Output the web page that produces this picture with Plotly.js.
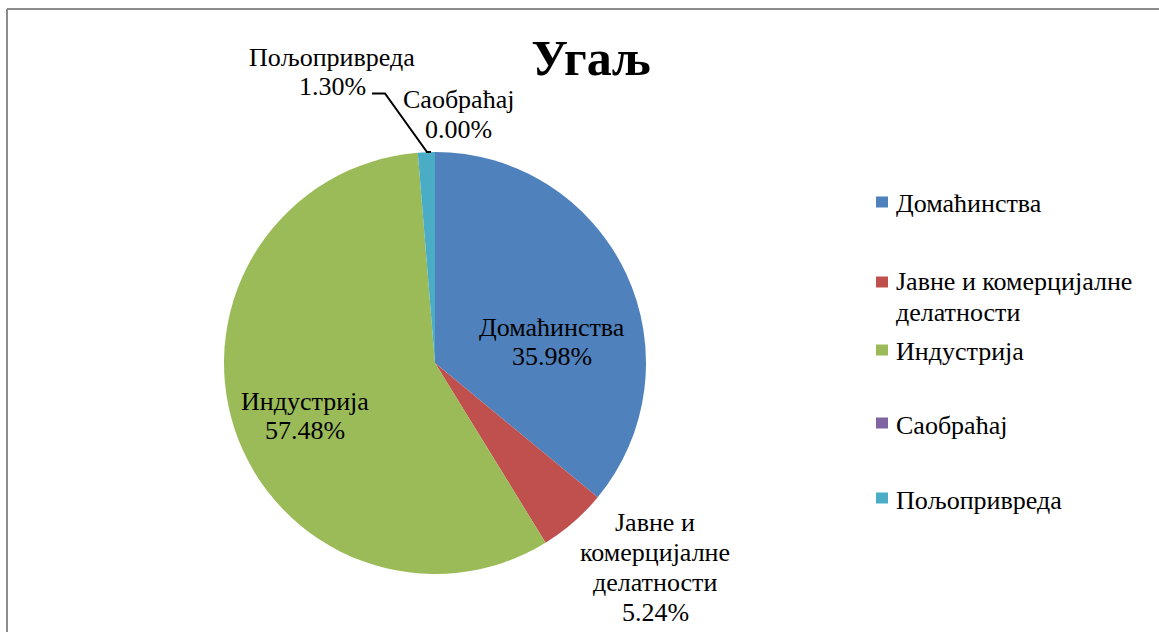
<!DOCTYPE html>
<html>
<head>
<meta charset="utf-8">
<script src="https://cdn.plot.ly/plotly-3.0.1.min.js"></script>
</head>
<body style="margin:0;background:#fff">
<div id="chart" style="width:1159px;height:632px"></div>
<script>
// ---- data ----
const categories = ["Домаћинства", "Јавне и комерцијалне делатности", "Индустрија", "Саобраћај", "Пољопривреда"];
const shares = [35.98, 5.24, 57.48, 0.00, 1.30];
const sliceColors = ["#4F81BD", "#C0504D", "#9BBB59", "#8064A2", "#4BACC6"];
const chartTitle = "Угаљ";

// ---- layout helpers (pixel -> paper) ----
const W = 1159, H = 632;
const px = x => x / W;
const py = y => 1 - y / H;
const FONT = "Liberation Serif";
const FS = 26;

// pie geometry
const cx = 435, cy = 363, R = 211;

// how long category names are broken into lines
const labelLines = {
  "Јавне и комерцијалне делатности": ["Јавне и", "комерцијалне", "делатности"]
};
const legendLines = {
  "Јавне и комерцијалне делатности": ["Јавне и комерцијалне", "делатности"]
};
// data-label block: centre x, first line y, line step
const labelPos = [[552, 327], [655, 522], [305, 401], [458, 100], [332, 57]];
const labelStep = [29, 30.3, 29, 29, 29];

const annotations = [];
function addText(str, x, y, anchor) {
  annotations.push({
    xref: "paper", yref: "paper",
    x: px(x), y: py(y),
    xanchor: anchor, yanchor: "middle",
    text: str, showarrow: false,
    font: {family: FONT, size: FS, color: "#000"}
  });
}

categories.forEach((c, i) => {
  const lines = (labelLines[c] || [c]).concat([shares[i].toFixed(2) + "%"]);
  lines.forEach((ln, k) => addText(ln, labelPos[i][0], labelPos[i][1] + k * labelStep[i], "center"));
});

// manual legend (swatch centre y, text line ys)
const legendSwatchY = [202, 282, 350, 423, 498];
const legendTextY = [[204], [282, 312], [351], [425], [500]];
const shapes = [];
categories.forEach((c, i) => {
  const sy = legendSwatchY[i];
  shapes.push({
    type: "rect", xref: "paper", yref: "paper",
    x0: px(876), x1: px(888), y0: py(sy - 5.5), y1: py(sy + 5.5),
    fillcolor: sliceColors[i], line: {width: 0}
  });
  (legendLines[c] || [c]).forEach((ln, k) => addText(ln, 894, legendTextY[i][k], "left"));
});

// leader line for small slice label
shapes.push({
  type: "path", xref: "paper", yref: "paper",
  path: `M ${px(372)} ${py(93.5)} L ${px(385)} ${py(93.5)} L ${px(427)} ${py(152)} L ${px(431)} ${py(152)}`,
  line: {color: "#000", width: 2}
});

// outer frame (left + top edges visible)
shapes.push({type: "line", xref: "paper", yref: "paper", x0: px(7), x1: px(7), y0: py(9), y1: 0, line: {color: "#8c8c8c", width: 2}});
shapes.push({type: "line", xref: "paper", yref: "paper", x0: px(7), x1: 1, y0: py(9), y1: py(9), line: {color: "#8c8c8c", width: 2}});

const trace = {
  type: "pie",
  labels: categories,
  values: shares,
  sort: false,
  direction: "clockwise",
  rotation: 0,
  marker: {colors: sliceColors, line: {width: 0}},
  textinfo: "none",
  hoverinfo: "label+percent",
  showlegend: false,
  domain: {x: [px(cx - R), px(cx + R)], y: [py(cy + R), py(cy - R)]}
};

const layout = {
  width: W, height: H,
  margin: {l: 0, r: 0, t: 0, b: 0},
  paper_bgcolor: "#fff",
  font: {family: FONT, color: "#000"},
  showlegend: false,
  title: {
    text: chartTitle,
    x: px(591), y: py(57), xref: "paper", yref: "paper",
    xanchor: "center", yanchor: "middle",
    font: {family: FONT, size: 50, color: "#000", weight: 700}
  },
  annotations: annotations,
  shapes: shapes
};

Plotly.newPlot("chart", [trace], layout, {displayModeBar: false, staticPlot: true});
</script>
</body>
</html>
